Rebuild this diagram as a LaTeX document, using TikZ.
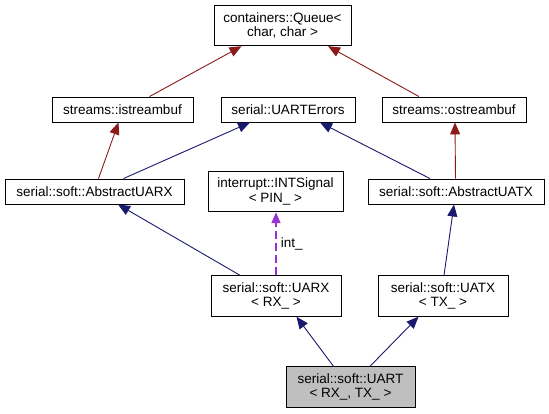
\documentclass[tikz,border=0pt]{standalone}
\usepackage{fontspec}
\setmainfont{Liberation Sans}
\usetikzlibrary{arrows.meta}
\definecolor{inhred}{HTML}{8B1A1A}
\definecolor{inhblue}{HTML}{191970}
\definecolor{usepurple}{HTML}{9A32CD}
\definecolor{selfgray}{HTML}{BFBFBF}
\begin{document}
\begin{tikzpicture}[x=1pt,y=-1pt,
  box/.style={draw=black,line width=0.9pt,fill=white,align=center,inner sep=0pt,
    font=\fontsize{13.5}{14.5}\selectfont},
  onebox/.style={box,minimum height=25pt},
  twobox/.style={box,minimum height=40.5pt},
  tip/.style={-{Triangle[length=12pt,width=10pt]}},
  redinh/.style={draw=inhred,line width=0.9pt,tip},
  blueinh/.style={draw=inhblue,line width=0.9pt,tip},
  usedash/.style={draw=usepurple,line width=1.6pt,dash pattern=on 8pt off 4pt,
    -{Triangle[length=11pt,width=9pt]}},
  lbl/.style={font=\fontsize{13.5}{14.5}\selectfont,inner sep=0pt}]
\useasboundingbox (0,0) rectangle (549,413);
\node[twobox,minimum width=137pt] (queue) at (282.5,25.5) {containers::Queue\textless\\char, char \textgreater};
\node[onebox,minimum width=141pt] (istr) at (122.5,109.5) {streams::istreambuf};
\node[onebox,minimum width=134pt] (uerr) at (288,109.5) {serial::UARTErrors};
\node[onebox,minimum width=144pt] (ostr) at (454,109.5) {streams::ostreambuf};
\node[onebox,minimum width=179pt] (auarx) at (94.5,191.5) {serial::soft::AbstractUARX};
\node[onebox,minimum width=176pt] (auatx) at (456,191.5) {serial::soft::AbstractUATX};
\node[twobox,minimum width=135pt] (intsig) at (275.5,191.5) {interrupt::INTSignal\\\textless{} PIN\_ \textgreater};
\node[twobox,minimum width=130pt] (uarx) at (276,296) {serial::soft::UARX\\\textless{} RX\_ \textgreater};
\node[twobox,minimum width=130pt] (uatx) at (443,296) {serial::soft::UATX\\\textless{} TX\_ \textgreater};
\node[twobox,minimum width=129pt,fill=selfgray] (uart) at (350.5,387) {serial::soft::UART\\\textless{} RX\_, TX\_ \textgreater};

\draw[redinh] ([xshift=27pt]istr.north) -- ([xshift=-41pt]queue.south);
\draw[redinh] ([xshift=-35pt]ostr.north) -- ([xshift=45.5pt]queue.south);
\draw[redinh] ([xshift=4pt]auarx.north) -- ([xshift=-4pt]istr.south);
\draw[blueinh] ([xshift=29pt]auarx.north) -- ([xshift=-38pt]uerr.south);
\draw[blueinh] ([xshift=-26pt]auatx.north) -- ([xshift=32pt]uerr.south);
\draw[redinh] ([xshift=-0.5pt]auatx.north) -- ([xshift=1pt]ostr.south);
\draw[blueinh] ([xshift=-36pt]uarx.north) -- ([xshift=23.5pt]auarx.south);
\draw[blueinh] ([xshift=1pt]uatx.north) -- ([xshift=-2pt]auatx.south);
\draw[usedash] (uarx.north) -- (uarx.north |- intsig.south) node[lbl,pos=0.5,anchor=west,xshift=4pt] (intlbl) {int\_};
\draw[blueinh] ([xshift=-17pt]uart.north) -- ([xshift=20.5pt]uarx.south);
\draw[blueinh] ([xshift=19.5pt]uart.north) -- ([xshift=-24.5pt]uatx.south);
\end{tikzpicture}
\end{document}
